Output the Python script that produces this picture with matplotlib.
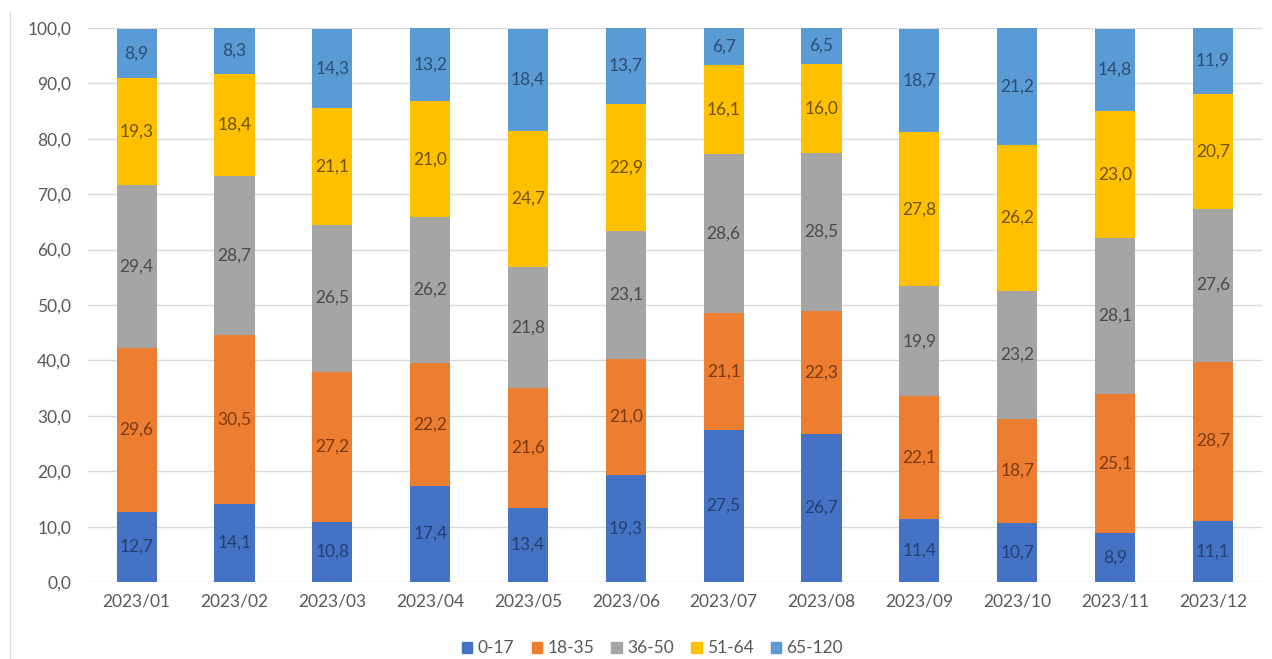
import matplotlib.pyplot as plt
import numpy as np
from matplotlib.lines import Line2D

months = ["2023/01", "2023/02", "2023/03", "2023/04", "2023/05", "2023/06",
          "2023/07", "2023/08", "2023/09", "2023/10", "2023/11", "2023/12"]

age_0_17 = [12.7, 14.1, 10.8, 17.4, 13.4, 19.3, 27.5, 26.7, 11.4, 10.7, 8.9, 11.1]
age_18_35 = [29.6, 30.5, 27.2, 22.2, 21.6, 21.0, 21.1, 22.3, 22.1, 18.7, 25.1, 28.7]
age_36_50 = [29.4, 28.7, 26.5, 26.2, 21.8, 23.1, 28.6, 28.5, 19.9, 23.2, 28.1, 27.6]
age_51_64 = [19.3, 18.4, 21.1, 21.0, 24.7, 22.9, 16.1, 16.0, 27.8, 26.2, 23.0, 20.7]
age_65_120 = [8.9, 8.3, 14.3, 13.2, 18.4, 13.7, 6.7, 6.5, 18.7, 21.2, 14.8, 11.9]

groups = ["0-17", "18-35", "36-50", "51-64", "65-120"]
series = [age_0_17, age_18_35, age_36_50, age_51_64, age_65_120]
colors = ["#4472C4", "#ED7D31", "#A5A5A5", "#FFC000", "#5B9BD5"]
text_colors = ["#25406F", "#7A3A12", "#4A4A4A", "#6E5400", "#2A4D72"]

plt.rcParams['font.family'] = ['Lato', 'DejaVu Sans']

fig = plt.figure(figsize=(12.72, 6.59), dpi=100)
ax = fig.add_axes([0.069, 0.1168, 0.923, 0.8407])

x = np.arange(len(months))
bottom = np.zeros(len(months))
for name, vals, c, tc in zip(groups, series, colors, text_colors):
    vals = np.array(vals)
    ax.bar(x, vals, 0.41, bottom=bottom, color=c, label=name, zorder=2)
    for xi, b, v in zip(x, bottom, vals):
        ax.text(xi, b + v / 2, f"{v:.1f}".replace(".", ","), ha="center", va="center",
                fontsize=12.5, color=tc, zorder=3)
    bottom += vals

ax.set_xlim(-0.5, 11.5)
ax.set_ylim(0, 100)
ax.set_yticks(np.arange(0, 101, 10))
ax.set_yticklabels([f"{v:.1f}".replace(".", ",") for v in np.arange(0, 101, 10)])
ax.set_xticks(x)
ax.set_xticklabels(months)
ax.yaxis.grid(True, color="#D9D9D9", linewidth=1, zorder=0)
for s in ax.spines.values():
    s.set_visible(False)
ax.tick_params(length=0, colors="#595959", labelsize=12.5)
ax.tick_params(axis="x", pad=8)
ax.tick_params(axis="y", pad=12)

handles = [plt.Rectangle((0, 0), 1, 1, color=c) for c in colors]
fig.legend(handles, groups, loc="center", bbox_to_anchor=(0.513, 0.016), ncol=5,
           frameon=False, fontsize=12.5, handlelength=0.6, handleheight=0.6,
           columnspacing=1.0, handletextpad=0.3, labelcolor="#595959")

fig.add_artist(Line2D([0.008, 0.008], [0.0, 0.98], color="#D9D9D9", linewidth=1))

fig.savefig("out.png", dpi=100)
